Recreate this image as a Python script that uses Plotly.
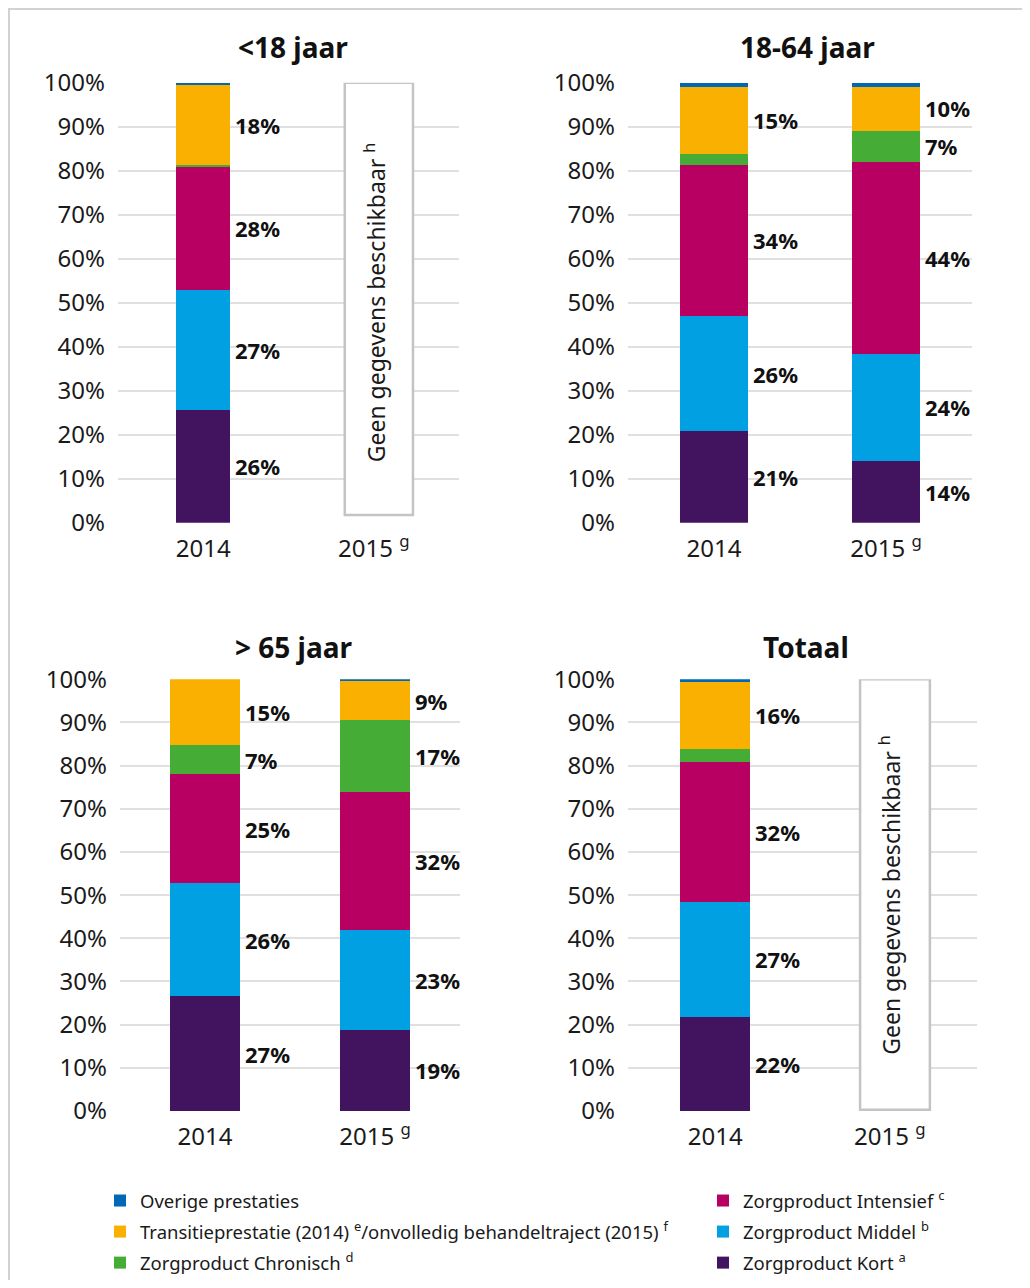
import plotly.graph_objects as go

# ---------------- data ----------------
series_names = [
    "Zorgproduct Kort <sup>a</sup>",
    "Zorgproduct Middel <sup>b</sup>",
    "Zorgproduct Intensief <sup>c</sup>",
    "Zorgproduct Chronisch <sup>d</sup>",
    "Transitieprestatie (2014) <sup>e</sup>/onvolledig behandeltraject (2015) <sup>f</sup>",
    "Overige prestaties",
]
years = ["2014", "2015"]
year_ticktext = ["2014", "2015 <sup>g</sup>"]
panel_titles = ["<18 jaar", "18-64 jaar", "> 65 jaar", "Totaal"]
no_data_text = "Geen gegevens beschikbaar <sup>h</sup>"

# shares (%) in order: Kort, Middel, Intensief, Chronisch, Transitie/onvolledig, Overige
jonger18_2014 = [25.7, 27.2, 28.0, 0.5, 18.1, 0.5]
jonger18_2015 = None
leeftijd18_64_2014 = [20.8, 26.2, 34.3, 2.5, 15.3, 0.9]
leeftijd18_64_2015 = [14.0, 24.4, 43.6, 7.2, 9.9, 0.9]
ouder65_2014 = [26.6, 26.2, 25.1, 6.9, 15.2, 0.0]
ouder65_2015 = [18.8, 23.1, 32.0, 16.6, 9.0, 0.5]
totaal_2014 = [21.8, 26.6, 32.4, 3.1, 15.5, 0.6]
totaal_2015 = None

panels = [
    [jonger18_2014, jonger18_2015],
    [leeftijd18_64_2014, leeftijd18_64_2015],
    [ouder65_2014, ouder65_2015],
    [totaal_2014, totaal_2015],
]

# ---------------- styles ----------------
series_colors = ["#42145f", "#00a0e2", "#b70062", "#45ad35", "#f9b000", "#0068b4"]
legend_rank = [3, 2, 1, 3, 2, 1]
legend_ref = ["legend2", "legend2", "legend2", "legend", "legend", "legend"]
FONT = "Noto Sans"
TXT = "#1a1a1a"
W, H = 1014, 1272


def fx(page_x):
    return (page_x - 8) / W


def fy(page_y):
    return 1 - (page_y - 8) / H


panel_xdom = [(118, 459), (628, 972), (120, 460), (628, 977)]
panel_ydom = [(522.7, 82.7), (522.7, 82.7), (1111, 679.3), (1111, 679.3)]
bar_width = [0.317, 0.395, 0.41, 0.40]
title_xy = [(293, 47), (807, 47), (293, 647), (806, 647)]
box_y0 = [1.75, 0, 0, 0.3]

fig = go.Figure()
annotations = []
shapes = []

for p, vals_by_year in enumerate(panels):
    n = p + 1
    xa = "x" if n == 1 else f"x{n}"
    ya = "y" if n == 1 else f"y{n}"
    bw = bar_width[p]
    for s, name in enumerate(series_names):
        xs, ys = [], []
        for yi, yr in enumerate(years):
            if vals_by_year[yi] is not None:
                xs.append(yr)
                ys.append(vals_by_year[yi][s])
        fig.add_trace(go.Bar(
            x=xs, y=ys, name=name, xaxis=xa, yaxis=ya,
            width=[bw] * len(xs),
            marker=dict(color=series_colors[s], line=dict(width=0)),
            legendgroup=name, showlegend=(p == 0), legendrank=legend_rank[s],
            legend=legend_ref[s],
            hovertemplate="%{x}: %{y}%<extra>" + name + "</extra>",
        ))
    for yi, yr in enumerate(years):
        vals = vals_by_year[yi]
        if vals is None:
            shapes.append(dict(type="rect", xref=xa, yref=ya,
                               x0=yi - 0.17, x1=yi + 0.23, y0=box_y0[p], y1=100,
                               line=dict(color="#c4c4c4", width=2.5),
                               fillcolor="white", layer="above"))
            annotations.append(dict(xref=xa, yref=ya, x=yi + 0.005, y=50,
                                    text=no_data_text, textangle=-90, showarrow=False,
                                    font=dict(family=FONT, size=23, color=TXT)))
            continue
        cum = 0
        for s, v in enumerate(vals):
            if v >= 5:
                annotations.append(dict(
                    xref=xa, yref=ya, x=yi + bw / 2, y=cum + v / 2,
                    text=f"{round(v)}%", showarrow=False, xanchor="left", xshift=3,
                    font=dict(family=FONT, size=22, color="#111111", weight="bold")))
            cum += v
    tx, ty = title_xy[p]
    annotations.append(dict(xref="paper", yref="paper", x=fx(tx), y=fy(ty),
                            text=panel_titles[p].replace("<", "&lt;"), showarrow=False,
                            xanchor="center", yanchor="middle",
                            font=dict(family=FONT, size=28, color="#111111", weight="bold")))

    xd = panel_xdom[p]
    yd = panel_ydom[p]
    fig.layout[("xaxis" if n == 1 else f"xaxis{n}")] = dict(
        domain=[fx(xd[0]), fx(xd[1])], anchor=ya, type="category",
        categoryorder="array", categoryarray=years, range=[-0.5, 1.5],
        tickvals=years, ticktext=year_ticktext, showgrid=False, showline=False,
        zeroline=False, ticks="", ticklabelstandoff=9,
        tickfont=dict(family=FONT, size=24, color=TXT), fixedrange=True)
    fig.layout[("yaxis" if n == 1 else f"yaxis{n}")] = dict(
        domain=[fy(yd[0]), fy(yd[1])], anchor=xa, range=[0, 100],
        tickvals=list(range(0, 101, 10)), ticktext=[f"{v}%" for v in range(0, 101, 10)],
        showgrid=True, gridcolor="#e0e0e0", gridwidth=2, showline=False,
        zeroline=False, ticks="", ticklabelstandoff=12,
        tickfont=dict(family=FONT, size=24, color=TXT), fixedrange=True)

# outer frame
shapes.append(dict(type="rect", xref="paper", yref="paper",
                   x0=1 / W, x1=1.2, y0=-0.2, y1=1 - 1 / H,
                   line=dict(color="#d2d2d2", width=2), layer="below"))

legend_common = dict(orientation="v", xanchor="left", yanchor="top",
                     traceorder="grouped", tracegroupgap=4,
                     font=dict(family=FONT, size=18.5, color=TXT),
                     bgcolor="rgba(0,0,0,0)", itemclick=False, itemdoubleclick=False)

fig.update_layout(
    width=W, height=H, autosize=False,
    margin=dict(l=0, r=0, t=0, b=0, pad=0, autoexpand=False),
    paper_bgcolor="white", plot_bgcolor="white",
    barmode="stack", bargap=0,
    annotations=annotations, shapes=shapes,
    showlegend=True,
    legend=dict(x=fx(100), y=fy(1182), **legend_common),
    legend2=dict(x=fx(703), y=fy(1182), **legend_common),
    font=dict(family=FONT, color=TXT),
)

fig.write_html("out.html")
